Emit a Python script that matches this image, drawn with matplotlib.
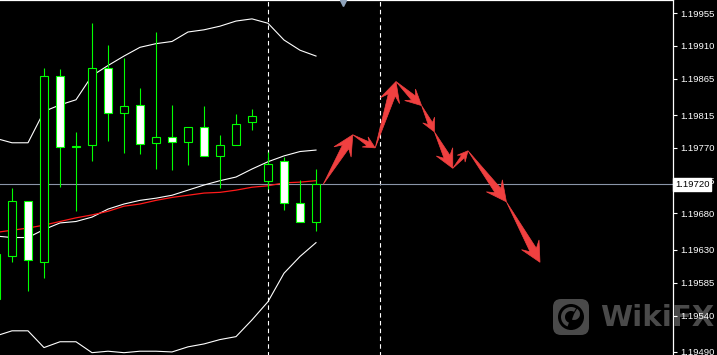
import numpy as np
import matplotlib
matplotlib.use("Agg")
import matplotlib.pyplot as plt
from matplotlib.patches import Rectangle, Polygon, FancyBboxPatch, Circle, Wedge
from matplotlib.transforms import IdentityTransform

W, H = 717, 355

# bar index (-1 is the bar cut off at the left edge)
bars = list(range(-1, 20))
opens = [1.19563, 1.19622, 1.19697, 1.19613, 1.19868, 1.19773, 1.19774, 1.19879, 1.19818, 1.19829, 1.19777,
         1.19785, 1.19778, 1.19798, 1.19759, 1.19774, 1.19805, 1.19725, 1.19752, 1.19694, 1.19668]
highs = [1.19628, 1.19715, 1.19697, 1.19880, 1.19878, 1.19792, 1.19941, 1.19911, 1.19893, 1.19852, 1.19929,
         1.19829, 1.19799, 1.19827, 1.19787, 1.19816, 1.19823, 1.19765, 1.19758, 1.19726, 1.19741]
lows = [1.19559, 1.19613, 1.19573, 1.19592, 1.19716, 1.19683, 1.19752, 1.19780, 1.19763, 1.19762, 1.19741,
        1.19740, 1.19747, 1.19759, 1.19715, 1.19774, 1.19795, 1.19714, 1.19685, 1.19668, 1.19656]
closes = [1.19624, 1.19697, 1.19616, 1.19868, 1.19771, 1.19771, 1.19879, 1.19818, 1.19828, 1.19776, 1.19785,
          1.19778, 1.19799, 1.19759, 1.19774, 1.19803, 1.19814, 1.19748, 1.19694, 1.19668, 1.19720]

# bollinger bands + moving average
bb_upper = [1.19783, 1.19777, 1.19777, 1.19820, 1.19829, 1.19836, 1.19869, 1.19883, 1.19896, 1.19908, 1.19913,
            1.19916, 1.19929, 1.19932, 1.19937, 1.19944, 1.19947, 1.19941, 1.19918, 1.19904, 1.19896]
bb_mid = [1.19649, 1.19647, 1.19647, 1.19658, 1.19667, 1.19669, 1.19675, 1.19686, 1.19693, 1.19698, 1.19701,
          1.19705, 1.19712, 1.19719, 1.19725, 1.19730, 1.19741, 1.19751, 1.19759, 1.19765, 1.19767]
bb_lower = [1.19512, 1.19519, 1.19519, 1.19496, 1.19504, 1.19504, 1.19489, 1.19491, 1.19489, 1.19491, 1.19491,
            1.19490, 1.19497, 1.19501, 1.19507, 1.19511, 1.19534, 1.19559, 1.19598, 1.19621, 1.19640]
ma_red = [1.19654, 1.19657, 1.19660, 1.19664, 1.19669, 1.19674, 1.19678, 1.19683, 1.19690, 1.19693, 1.19698,
          1.19702, 1.19705, 1.19708, 1.19709, 1.19712, 1.19716, 1.19718, 1.19722, 1.19723, 1.19725]

# forecast path drawn as arrows
arrow_x = [19.45, 21.3, 22.7, 24.0, 25.6, 26.4, 27.55, 28.5, 30.9, 33.0]
arrow_y = [1.19720, 1.19788, 1.19770, 1.19861, 1.19828, 1.19792, 1.19742, 1.19766, 1.19696, 1.19613]

day_separators = [16, 23]
current_price = 1.19720
price_ticks = [1.19955, 1.19910, 1.19865, 1.19815, 1.19770, 1.19725, 1.19680, 1.19630, 1.19585, 1.19540, 1.19490]

fig = plt.figure(figsize=(W / 100, H / 100), dpi=100, facecolor="black")
ax = fig.add_axes([-2 / W, -3 / H, 675 / W, 358 / H])
ax.set_facecolor("black")
ax.set_xlim(-0.875, 41.3125)
ax.set_ylim(1.194817, 1.199729)

for s in ["left", "bottom"]:
    ax.spines[s].set_visible(False)
for s in ["top", "right"]:
    ax.spines[s].set_color("white")
    ax.spines[s].set_linewidth(0.9)

ax.set_xticks([])
ax.yaxis.tick_right()
ax.set_yticks(price_ticks)
ax.set_yticklabels(["%.5f" % v for v in price_ticks], family="Liberation Sans")
ax.tick_params(axis="y", colors="white", length=3, width=0.8, labelsize=6.8, pad=2)

# bands
ax.plot(bars, bb_upper, color="white", lw=0.8, zorder=2)
ax.plot(bars, bb_mid, color="white", lw=0.8, zorder=2)
ax.plot(bars, bb_lower, color="white", lw=0.8, zorder=2)
ax.plot(bars, ma_red, color="#ff1a1a", lw=0.9, zorder=2.1)

# candles
green = "#00ff00"
bw = 0.56
for x, o, h, l, c in zip(bars, opens, highs, lows, closes):
    ax.plot([x, x], [l, h], color=green, lw=0.8, zorder=3, solid_capstyle="butt")
    fill = "black" if c > o else "white"
    if abs(c - o) < 3e-5:
        fill = green
    ax.add_patch(Rectangle((x - bw / 2, min(o, c)), bw, max(abs(c - o), 1e-6),
                           facecolor=fill, edgecolor=green, lw=0.8, zorder=3.1))

# day separators and current price
for d in day_separators:
    ax.axvline(d, color="white", lw=0.8, linestyle=(0, (4, 3)), zorder=1.5)
ax.axhline(current_price, color="#8a95a8", lw=0.8, zorder=1.6)
ax.text(1.003, current_price, "%.5f" % current_price, transform=ax.get_yaxis_transform(),
        ha="left", va="center", fontsize=6.8, family="Liberation Sans", color="black",
        clip_on=False, zorder=5,
        bbox=dict(boxstyle="square,pad=0.2", facecolor="white", edgecolor="white"))


def arrow_poly(p0, p1):
    d = p1 - p0
    L = np.hypot(*d)
    u = d / L
    n = np.array([-u[1], u[0]])
    hl = min(20.0, 0.45 * L)
    wb = hl * 0.5
    w = hl * 0.18
    notch = p1 - u * hl * 0.7
    back = p1 - u * hl
    return [p0, notch + n * w, back + n * wb, p1, back - n * wb, notch - n * w]


pts = ax.transData.transform(np.column_stack([arrow_x, arrow_y]))
for i in range(len(pts) - 1):
    ax.add_patch(Polygon(arrow_poly(pts[i], pts[i + 1]), closed=True, transform=IdentityTransform(),
                         facecolor="#f04040", edgecolor="#f04040", lw=0.5, zorder=4))

# shift marker at top
ax.plot([345 / 675], [0.993], marker="v", color="#8fa3ba", markersize=5,
        transform=ax.transAxes, clip_on=False, zorder=5)

# watermark
wm = "#4a4a4a"
ax.add_patch(FancyBboxPatch((553, H - 335), 36, 36, boxstyle="round,pad=0,rounding_size=8",
                            transform=IdentityTransform(), facecolor=wm, edgecolor="none",
                            zorder=0.5, clip_on=False))
ax.add_patch(Circle((571, H - 317), 13, transform=IdentityTransform(), facecolor="black",
                    edgecolor="none", zorder=0.6, clip_on=False))
ax.add_patch(Wedge((571, H - 317), 10, 60, 250, width=4, transform=IdentityTransform(), facecolor=wm,
                   edgecolor="none", zorder=0.7, clip_on=False))
ax.add_patch(Wedge((574, H - 314), 6, 250, 420, transform=IdentityTransform(), facecolor=wm,
                   edgecolor="none", zorder=0.7, clip_on=False))
ax.text(600 / W, 1 - 318 / H, "WikiFX", transform=fig.transFigure, fontsize=21, fontweight="bold",
        color=wm, ha="left", va="center", clip_on=False, zorder=0.5)

fig.savefig("out.png", dpi=100, facecolor="black")
